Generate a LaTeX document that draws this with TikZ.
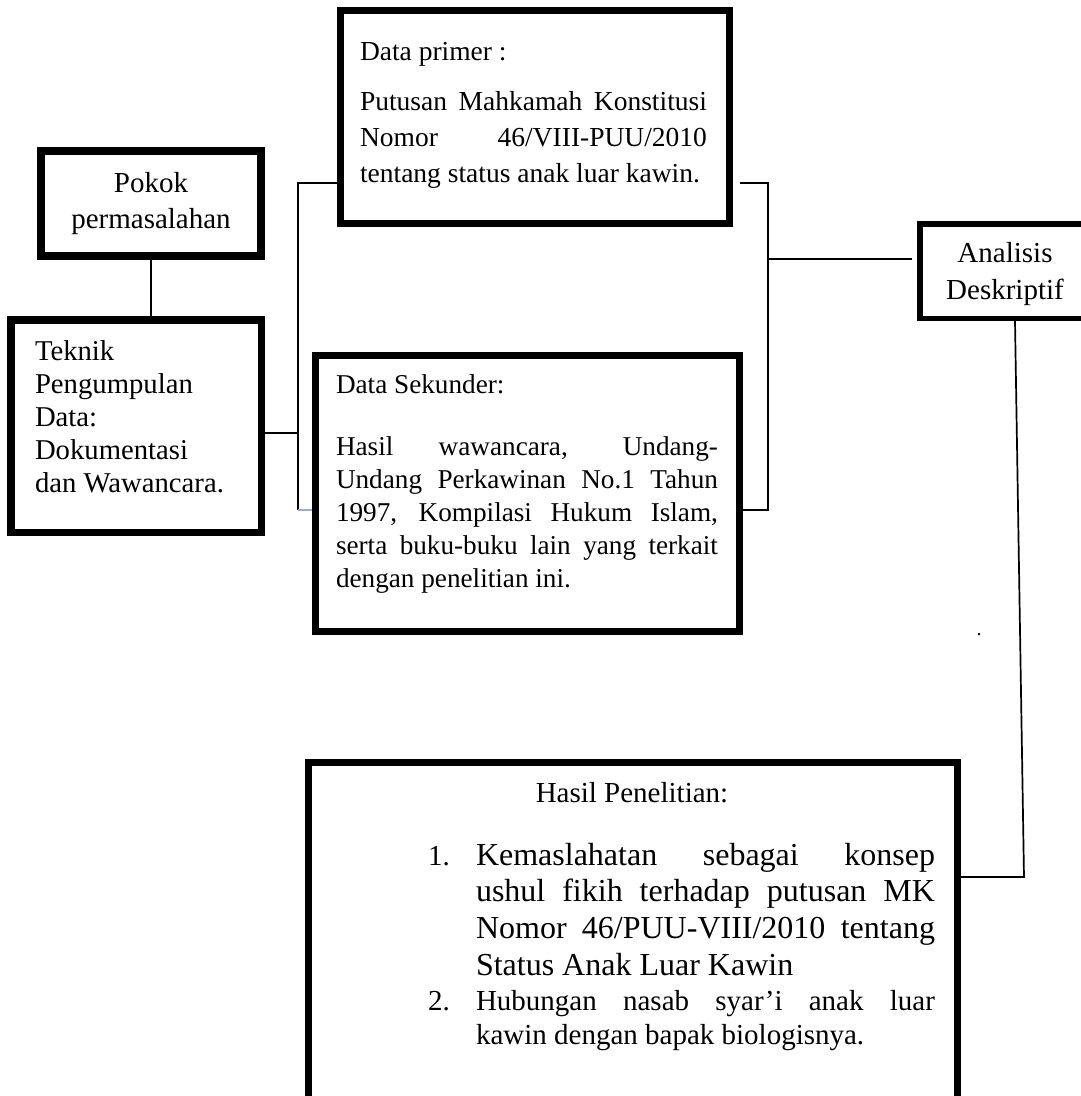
\documentclass[tikz,border=0pt]{standalone}
\usepackage{fontspec}
\setmainfont{Liberation Serif}
\definecolor{linkblue}{RGB}{143,175,222}
\setlength{\parindent}{0pt}
\newcommand\jline[2]{\makebox[#1][s]{\spaceskip=0pt\xspaceskip=0pt #2}}
\begin{document}
\begin{tikzpicture}[x=1pt,y=-1pt,
  box/.style={draw=black, rectangle, inner sep=0pt},
  conn/.style={draw=black, line width=1.7pt},
  txt/.style={inner sep=0pt, outer sep=0pt, execute at begin node={\spaceskip=0pt\xspaceskip=0pt}},
]
\useasboundingbox (0,0) rectangle (1081,1096);
\clip (0,0) rectangle (1081,1096);
\fill[white] (0,0) rectangle (1081,1096);

% boxes
\node[box, line width=8pt, minimum width=220pt, minimum height=105pt] (pokok) at (151,203.5) {};
\node[box, line width=7.5pt, minimum width=250.5pt, minimum height=212.5pt] (teknik) at (136,426) {};
\node[box, line width=7pt, minimum width=389pt, minimum height=213pt] (primer) at (535,117) {};
\node[box, line width=7pt, minimum width=424pt, minimum height=276pt] (sekunder) at (527.5,493.5) {};
\node[box, line width=5.5pt, minimum width=180.25pt, minimum height=94.5pt] (analisis) at (1009.9,271) {};
\node[box, line width=7pt, minimum width=649pt, minimum height=367.5pt] (hasil) at (633,946.25) {};

% connector points
\coordinate (lbtop) at (298,183);
\coordinate (lbmid) at (298,433);
\coordinate (lbbot) at (298,510);
\coordinate (rbtopend) at (740,183);
\coordinate (rbtop) at (768,183);
\coordinate (rbmid) at (768,259);
\coordinate (rbbot) at (768,510);
\coordinate (anaend) at (912,259);
\coordinate (anatop) at (1015,321);
\coordinate (anabot) at (1024,877);

% connectors
\draw[conn] (pokok.south) -- (pokok.south |- teknik.north);
\draw[conn] (teknik.east |- lbmid) -- (lbmid);
\draw[conn] (primer.west |- lbtop) -- (lbtop) -- (lbbot);
\draw[conn, draw=linkblue] (lbbot) -- (sekunder.west |- lbbot);
\draw[conn] (rbtopend) -- (rbtop) -- (rbbot) -- (sekunder.east |- rbbot);
\draw[conn] (rbmid) -- (anaend);
\draw[conn] (anatop) -- (anabot) -- (hasil.east |- anabot);

% texts
\node[txt, anchor=base, text width=220pt, align=center, font=\fontsize{29}{36}\selectfont] (pokoktxt) at (151,192) {Pokok\\permasalahan};

\node[txt, anchor=base west, text width=240pt, align=left, font=\fontsize{28.7}{33}\selectfont] (tekniktxt) at (35,360) {Teknik\\Pengumpulan\\Data:\\Dokumentasi\\dan Wawancara.};

\node[txt, anchor=base west, font=\fontsize{27.5}{33}\selectfont] (primerhead) at (360,60) {Data primer :};
\node[txt, anchor=base west, text width=360pt, align=left, font=\fontsize{27.5}{36}\selectfont] (primerbody) at (360,110) {\jline{347pt}{Putusan Mahkamah Konstitusi}\\\jline{347pt}{Nomor 46/VIII-PUU/2010}\\tentang status anak luar kawin.};

\node[txt, anchor=base west, font=\fontsize{27.2}{33}\selectfont] (sekhead) at (336,393) {Data Sekunder:};
\node[txt, anchor=base west, text width=395pt, align=left, font=\fontsize{27.2}{33.2}\selectfont] (sekbody) at (336,455) {\jline{382pt}{Hasil wawancara, Undang-}\\\jline{382pt}{Undang Perkawinan No.1 Tahun}\\\jline{382pt}{1997, Kompilasi Hukum Islam,}\\\jline{382pt}{serta buku-buku lain yang terkait}\\dengan penelitian ini.};

\node[txt, anchor=base, text width=160pt, align=center, font=\fontsize{29}{37}\selectfont] (anatxt) at (1005,262) {Analisis\\Deskriptif};

\node[txt, anchor=base, font=\fontsize{29}{34}\selectfont] (hasilhead) at (632,802) {Hasil Penelitian:};
\node[txt, anchor=base west, font=\fontsize{29}{34}\selectfont] (num1) at (428,865) {1.};
\node[txt, anchor=base west, text width=475pt, align=left, font=\fontsize{32}{36.7}\selectfont] (item1) at (476,865) {\jline{459pt}{Kemaslahatan sebagai konsep}\\\jline{459pt}{ushul fikih terhadap putusan MK}\\\jline{459pt}{Nomor 46/PUU-VIII/2010 tentang}\\Status Anak Luar Kawin};
\node[txt, anchor=base west, font=\fontsize{29}{34}\selectfont] (num2) at (428,1010) {2.};
\node[txt, anchor=base west, text width=475pt, align=left, font=\fontsize{29}{34}\selectfont] (item2) at (476,1010) {\jline{459pt}{Hubungan nasab syar’i anak luar}\\kawin dengan bapak biologisnya.};

\node[txt, anchor=base, font=\fontsize{20}{20}\selectfont] (dotmark) at (979,635) {.};
\end{tikzpicture}
\end{document}
